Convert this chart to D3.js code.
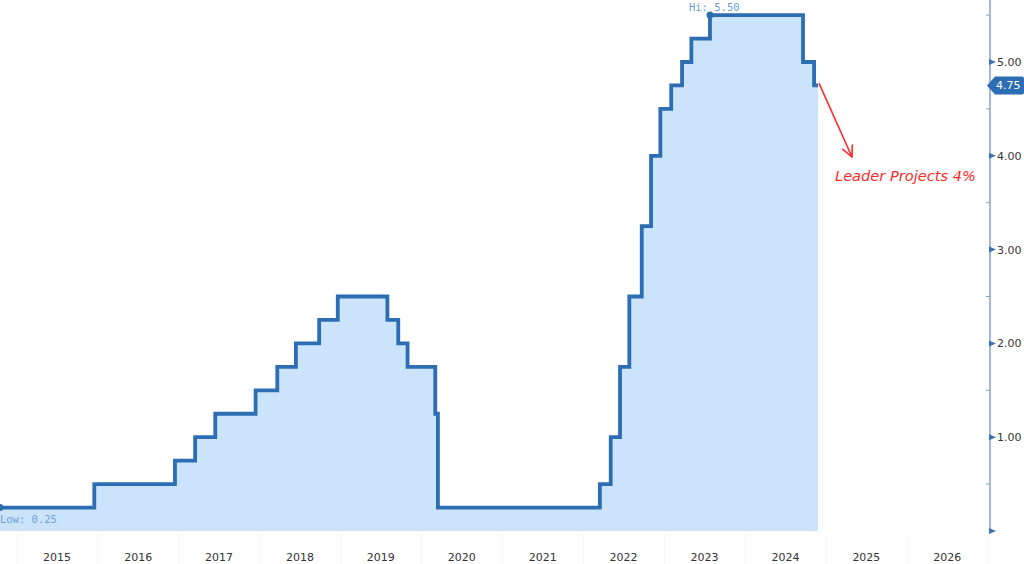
<!DOCTYPE html>
<html><head><meta charset="utf-8">
<script src="https://cdn.jsdelivr.net/npm/d3@7"></script>
<style>body{margin:0;background:#fff}svg{display:block}</style>
</head><body>
<svg id="c" width="1024" height="564"></svg>
<script>
const dates = ["2014-10-16","2015-12-16","2016-12-14","2017-03-15","2017-06-14","2017-12-13","2018-03-21","2018-06-13","2018-09-26","2018-12-19","2019-07-31","2019-09-18","2019-10-30","2020-03-03","2020-03-15","2022-03-16","2022-05-04","2022-06-15","2022-07-27","2022-09-21","2022-11-02","2022-12-14","2023-02-01","2023-03-22","2023-05-03","2023-07-26","2024-09-18","2024-11-07","2024-11-25"];
const rates = [0.25,0.50,0.75,1.00,1.25,1.50,1.75,2.00,2.25,2.50,2.25,2.00,1.75,1.25,0.25,0.50,1.00,1.75,2.50,3.25,4.00,4.50,4.75,5.00,5.25,5.50,5.00,4.75,4.75];
const years = [2015,2016,2017,2018,2019,2020,2021,2022,2023,2024,2025,2026];
const yTicks = [0,1,2,3,4,5];
const yMinor = [0.5,1.5,2.5,3.5,4.5,5.5];
const lastValue = 4.75, hiValue = 5.50, lowValue = 0.25;
const annotation = "Leader Projects 4%";

const parse = d3.timeParse("%Y-%m-%d");
const data = dates.map((d,i)=>({date:parse(d), v:rates[i]}));
const svg = d3.select("#c");
const x = d3.scaleTime().domain([new Date(2015,0,1), new Date(2027,0,1)]).range([17,988]);
const y = d3.scaleLinear().domain([0,5]).range([531,62]);
const axisX = 990;

// faint year separators in label band
svg.append("g").selectAll("line").data(years.concat([2027])).join("line")
  .attr("x1",d=>x(new Date(d,0,1))).attr("x2",d=>x(new Date(d,0,1)))
  .attr("y1",533).attr("y2",564).attr("stroke","#f6f6f6").attr("stroke-width",1);

// area
const area = d3.area().x(d=>x(d.date)).y0(y(0)).y1(d=>y(d.v)).curve(d3.curveStepAfter);
svg.append("path").datum(data).attr("d",area).attr("fill","#cce4fb");
const line = d3.line().x(d=>x(d.date)).y(d=>y(d.v)).curve(d3.curveStepAfter);
svg.append("path").datum(data).attr("d",line).attr("fill","none")
  .attr("stroke","#2c6db3").attr("stroke-width",3.8).attr("stroke-linejoin","miter");

// Hi / Low markers
const hiPt = data.find(d=>d.v===hiValue);
svg.append("circle").attr("cx",x(hiPt.date)).attr("cy",y(hiValue)).attr("r",3.5).attr("fill","#2c6db3");
svg.append("text").attr("x",x(hiPt.date)-21).attr("y",y(hiValue)-4)
  .attr("font-family","DejaVu Sans Mono, monospace").attr("font-size",10.5).attr("fill","#6a9fd6")
  .text("Hi: "+hiValue.toFixed(2));
const loPt = data[0];
svg.append("circle").attr("cx",x(loPt.date)).attr("cy",y(lowValue)).attr("r",3.5).attr("fill","#2c6db3");
svg.append("text").attr("x",x(loPt.date)).attr("y",y(lowValue)+15)
  .attr("font-family","DejaVu Sans Mono, monospace").attr("font-size",10.5).attr("fill","#6a9fd6")
  .text("Low: "+lowValue.toFixed(2));

// x labels
svg.append("g").selectAll("text").data(years).join("text")
  .attr("x",d=>x(new Date(d,6,1))).attr("y",561).attr("text-anchor","middle")
  .attr("font-family","DejaVu Sans, sans-serif").attr("font-size",11).attr("fill","#333")
  .text(d=>d);

// y axis
svg.append("line").attr("x1",axisX).attr("x2",axisX).attr("y1",0).attr("y2",533)
  .attr("stroke","#7fa3cb").attr("stroke-width",1.5);
svg.append("g").selectAll("path").data(yTicks).join("path")
  .attr("d",d=>`M${axisX-1},${y(d)-3}L${axisX+6},${y(d)}L${axisX-1},${y(d)+3}Z`).attr("fill","#3a72b5");
svg.append("g").selectAll("line").data(yMinor).join("line")
  .attr("x1",axisX-4).attr("x2",axisX).attr("y1",d=>y(d)).attr("y2",d=>y(d))
  .attr("stroke","#7fa3cb").attr("stroke-width",1);
svg.append("g").selectAll("text").data(yTicks.filter(d=>d>0)).join("text")
  .attr("x",axisX+7).attr("y",d=>y(d)+4)
  .attr("font-family","DejaVu Sans, sans-serif").attr("font-size",11).attr("fill","#333")
  .text(d=>d.toFixed(2));

// last value tag
const ty = y(lastValue);
svg.append("path").attr("d",`M${axisX-3},${ty}L${axisX+5},${ty-9}L1022,${ty-9}Q1024,${ty-9} 1024,${ty-7}L1024,${ty+7}Q1024,${ty+9} 1022,${ty+9}L${axisX+5},${ty+9}Z`)
  .attr("fill","#2c6db3");
svg.append("text").attr("x",axisX+6).attr("y",ty+4)
  .attr("font-family","DejaVu Sans, sans-serif").attr("font-size",11).attr("fill","#fff")
  .text(lastValue.toFixed(2));

// annotation arrow
const endPt = data[data.length-1];
const ax0 = x(endPt.date)+1, ay0 = y(lastValue)-2, ax1 = 852, ay1 = 157;
svg.append("line").attr("x1",ax0).attr("y1",ay0).attr("x2",ax1).attr("y2",ay1)
  .attr("stroke","#ff2a2a").attr("stroke-width",1.6);
const ang = Math.atan2(ay1-ay0, ax1-ax0);
const hl = 12;
[ang+Math.PI-0.45, ang+Math.PI+0.45].forEach(a=>{
  svg.append("line").attr("x1",ax1).attr("y1",ay1)
    .attr("x2",ax1+hl*Math.cos(a)).attr("y2",ay1+hl*Math.sin(a))
    .attr("stroke","#ff2a2a").attr("stroke-width",1.6).attr("stroke-linecap","round");
});
svg.append("text").attr("x",835).attr("y",181)
  .attr("font-family","DejaVu Sans, sans-serif").attr("font-style","italic")
  .attr("font-size",14.6).attr("fill","#ff2a2a").text(annotation);
</script>
</body></html>
